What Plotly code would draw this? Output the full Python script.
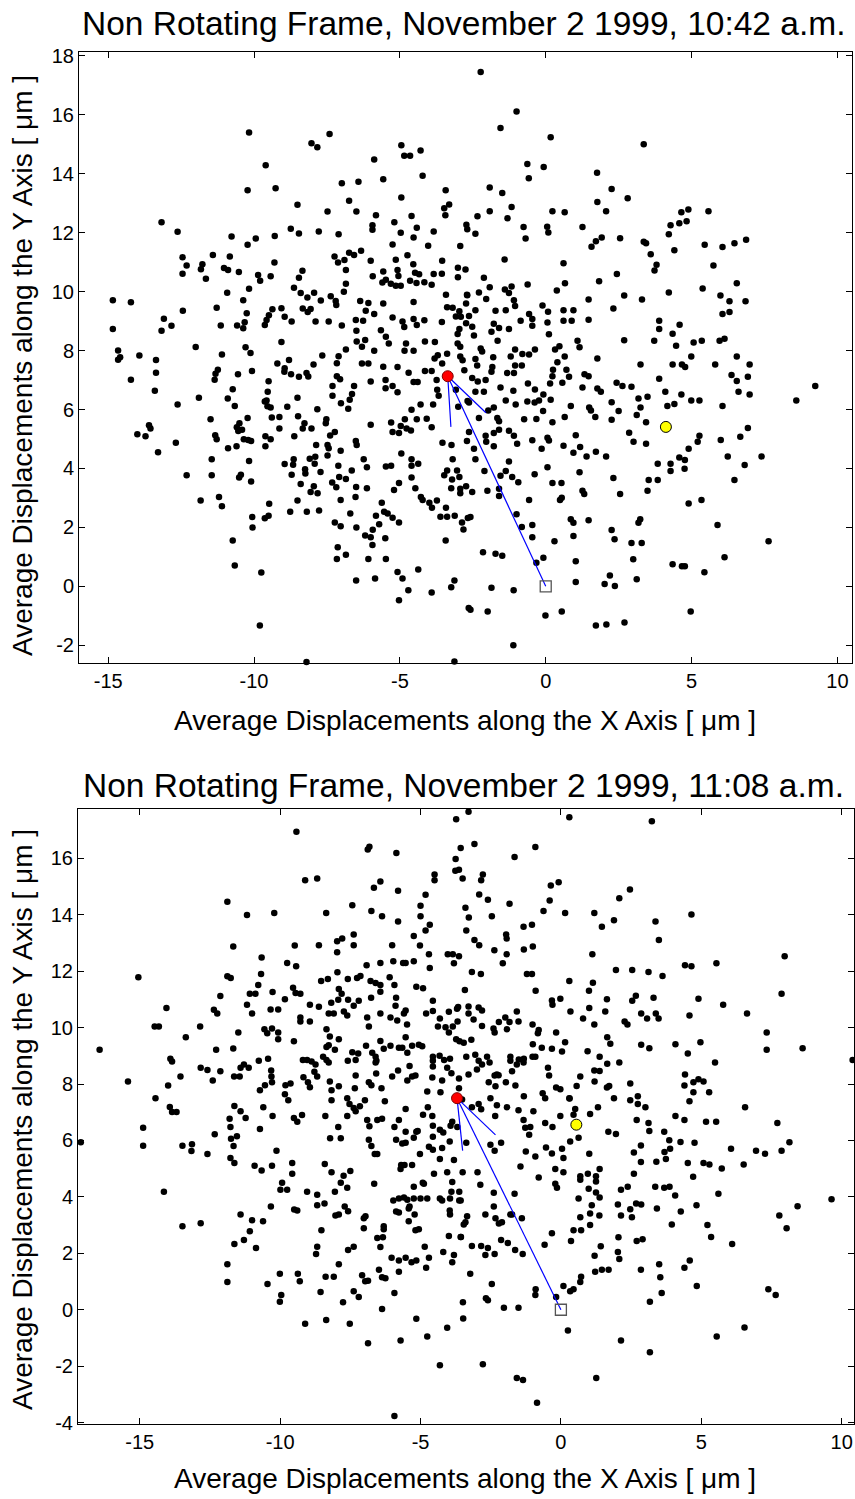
import plotly.graph_objects as go

W, H = 855, 1499

# ---------------- data: top panel (10:42 a.m.) ----------------
top_points = [
(-10.17,15.4),(-7.41,15.35),(-8.03,15.03),(-7.83,14.9),(-4.95,14.97),(-4.85,14.61),(-4.65,14.61),(-4.29,14.79),(-5.88,14.48),(-9.6,14.29),
(-6.99,13.68),(-6.42,13.73),(-5.57,13.81),(-4.22,13.93),(-10.22,13.44),(-9.26,13.51),(-4.95,13.19),(-3.43,13.44),(-8.51,12.95),(-6.74,13.08),
(-3.48,12.83),(-3.31,12.96),(-7.48,12.72),(-6.49,12.72),(-3.44,12.59),(-5.82,12.59),(-4.6,12.57),(-13.17,12.35),(-8.74,12.13),(-8.46,11.97),
(-7.78,12.04),(-5.94,12.25),(-5.94,12.1),(-5.19,12.35),(-4.97,12.0),(-4.42,12.17),(-4.53,11.84),(-3.84,12.04),(-2.72,12.27),(-12.62,12.03),
(-10.77,11.87),(-9.94,11.8),(-10.22,11.59),(-9.29,11.89),(-7.1,11.95),(-5.25,11.6),(-4.03,11.56),(-2.93,11.55),(-12.45,11.17),(-12.31,10.89),
(-12.45,10.61),(-11.82,10.76),(-11.77,10.93),(-11.65,10.44),(-11.41,11.24),(-10.83,11.19),(-11.03,10.8),(-10.89,10.73),(-10.52,10.67),(-9.86,10.56),
(-9.79,10.37),(-9.43,10.52),(-9.3,10.99),(-7.24,11.19),(-7.12,10.99),(-6.9,11.07),(-6.85,10.73),(-6.74,11.32),(-6.57,11.24),(-6.33,11.39),
(-6.0,11.05),(-5.93,10.52),(-5.57,10.68),(-5.48,10.4),(-5.6,10.31),(-5.31,10.27),(-5.14,10.2),(-5.14,11.08),(-5.08,10.73),(-5.05,10.53),
(-4.97,10.2),(-4.74,11.23),(-4.54,10.93),(-4.48,10.64),(-4.34,10.59),(-4.65,10.37),(-4.43,10.29),(-4.16,10.32),(-3.91,10.23),(-3.84,10.6),
(-3.56,10.61),(-3.55,11.05),(-3.01,10.49),(-3.01,10.81),(-2.75,10.75),
(-14.84,9.71),(-14.22,9.64),(-14.84,8.73),(-12.44,9.35),(-13.09,9.08),(-13.17,8.67),(-12.83,8.84),(-11.28,9.45),(-10.92,9.96),(-11.14,8.85),
(-10.58,8.85),(-10.37,9.71),(-10.25,9.27),(-10.32,8.96),(-10.37,8.76),(-10.17,10.1),(-9.63,8.87),(-9.57,9.04),(-9.49,9.2),(-9.37,9.4),
(-9.06,9.44),(-8.95,9.15),(-8.71,8.99),(-8.63,10.13),(-8.46,10.47),(-8.4,9.95),(-8.34,10.71),(-8.33,9.43),(-8.16,9.31),(-8.06,9.41),
(-8.17,9.8),(-7.94,9.96),(-7.89,8.99),(-7.71,9.7),(-7.44,8.99),(-7.37,9.84),(-7.2,9.68),(-7.18,9.55),(-6.92,10.0),(-6.85,10.27),
(-6.99,8.85),(-6.51,9.04),(-6.36,9.68),(-6.17,9.35),(-6.26,9.01),(-6.08,9.61),(-5.88,9.24),(-5.57,9.6),(-5.25,9.12),(-4.91,8.99),
(-4.85,8.8),(-4.53,9.07),(-4.42,8.87),(-4.53,9.65),(-4.16,9.03),(-3.56,8.97),(-3.38,9.47),(-3.19,9.45),(-3.42,9.89),(-3.08,9.16),
(-2.91,9.15),(-2.96,9.33),(-2.96,8.73),(-3.02,8.56),(-2.73,9.6),(-2.73,8.93),(-2.7,9.89),
(-14.66,8.0),(-14.59,7.77),(-14.66,7.69),(-13.93,7.83),(-13.36,7.68),(-13.36,7.25),(-13.4,6.64),(-14.22,7.01),(-12.62,6.17),(-12.0,8.12),
(-11.89,6.4),(-11.1,7.87),(-11.24,7.35),(-11.32,7.21),(-11.35,7.01),(-10.55,7.2),(-10.29,8.11),(-10.12,7.92),(-10.07,7.31),(-9.06,8.29),
(-9.2,7.56),(-8.95,7.4),(-8.96,7.28),(-8.8,7.68),(-8.73,7.2),(-8.46,7.11),(-8.2,7.24),(-8.14,7.12),(-7.96,7.53),(-7.66,7.83),
(-9.5,6.96),(-9.53,6.6),(-9.57,6.31),(-9.43,6.07),(-9.39,5.73),(-8.51,6.4),(-7.16,7.57),(-7.1,7.81),(-6.85,8.04),(-7.16,7.13),
(-7.05,7.03),(-7.31,6.8),(-7.31,6.47),(-7.02,6.21),(-6.77,6.03),(-6.72,6.33),(-6.64,6.53),(-6.57,6.8),(-6.49,8.67),(-6.48,8.31),
(-6.19,8.36),(-6.3,8.13),(-6.3,7.56),(-6.08,7.56),(-6.0,6.95),(-5.88,7.99),(-5.57,7.45),(-5.65,8.69),(-5.48,8.47),(-5.38,8.24),
(-5.49,7.0),(-5.49,6.72),(-5.25,6.8),(-5.08,7.44),(-5.08,6.59),(-4.79,8.24),(-4.84,7.99),(-4.53,7.99),(-4.7,7.25),(-4.53,6.93),
(-4.39,6.93),(-4.14,7.31),(-3.91,7.31),(-4.14,8.31),(-3.8,8.29),(-3.81,7.73),(-3.7,7.84),(-3.55,7.56),(-3.38,7.89),(-3.02,8.24),
(-2.93,8.13),(-2.93,7.8),(-2.85,7.67),(-2.79,7.33),(-3.74,7.0),(-3.72,6.67),(-3.67,6.47),(-3.86,6.17),(-4.29,6.17),(-4.6,5.99),
(-3.08,6.67),(-3.0,6.09),(-2.68,6.29),
(-5.3,5.56),(-4.97,5.44),(-4.77,5.36),(-4.62,5.29),(-4.83,5.67),(-5.25,5.24),(-5.03,5.2),(-4.42,5.67),(-4.08,5.69),(-3.91,5.4),
(-6.0,5.48),(-7.52,5.67),(-7.54,5.53),(-7.23,5.24),(-7.83,6.01),(-8.03,5.36),(-8.49,5.77),(-8.27,5.53),(-8.86,6.09),(-9.13,5.75),
(-9.13,5.36),(-9.63,6.27),(-9.54,6.11),(-10.22,5.71),(-10.66,6.12),(-10.9,6.37),(-10.73,6.69),(-11.49,5.67),(-10.59,5.4),(-10.54,5.27),
(-10.5,5.53),(-10.41,5.31),(-10.2,4.97),(-10.1,4.93),(-10.35,4.99),(-10.89,4.69),(-11.33,5.13),(-11.28,4.99),(-10.6,4.75),(-9.61,5.09),
(-9.43,4.99),(-9.61,4.75),(-8.62,5.09),(-8.33,5.36),(-13.6,5.47),(-13.55,5.36),(-14.0,5.16),(-13.72,5.09),(-13.29,4.55),(-12.68,4.87),
(-11.45,4.31),(-12.31,3.77),(-11.45,3.77),(-10.51,3.69),(-10.45,3.79),(-10.17,4.25),(-10.1,3.56),(-11.83,2.91),(-11.2,3.03),(-11.1,2.72),
(-10.06,2.35),(-10.05,2.0),(-9.48,2.8),(-9.63,2.31),(-9.5,2.4),(-8.95,4.15),(-8.64,4.31),(-8.66,4.13),(-8.71,3.79),(-8.4,3.47),
(-8.25,3.97),(-8.24,3.83),(-8.09,4.33),(-7.9,4.4),(-7.92,4.16),(-7.72,3.88),(-7.87,4.8),(-7.48,4.8),(-7.44,4.69),(-7.48,4.44),
(-7.39,5.12),(-7.03,4.6),(-6.51,4.93),(-6.48,4.8),(-6.24,4.31),(-6.13,4.04),(-7.11,4.09),(-6.85,3.64),(-7.08,3.71),(-6.65,3.93),
(-7.95,3.4),(-8.06,3.2),(-7.82,3.16),(-7.32,3.52),(-7.18,3.36),(-7.03,2.93),(-6.5,3.37),(-6.52,3.03),(-6.13,3.33),(-8.51,2.91),
(-8.19,2.53),(-8.76,2.53),(-7.77,2.57),(-7.23,2.17),(-7.03,2.04),(-6.7,2.47),(-6.49,2.0),(-6.19,1.73),(-6.0,1.67),(-5.93,1.92),
(-5.62,2.84),(-5.54,2.53),(-5.42,2.47),(-5.82,2.4),(-5.71,2.11),(-5.94,1.4),(-5.5,1.63),(-5.25,2.33),(-5.03,2.17),(-5.3,4.09),
(-5.48,4.07),(-4.95,4.51),(-5.03,3.51),(-5.2,3.27),(-4.6,4.31),(-4.6,4.09),(-4.37,4.16),(-4.6,3.69),(-4.47,3.33),(-4.28,3.03),
(-4.22,2.93),(-3.99,2.84),(-3.9,2.67),(-3.73,2.91),(-3.61,2.36),(-3.38,2.36),(-3.42,2.67),(-3.12,2.4),(-2.87,2.17),(-2.82,1.93),
(-2.67,2.32),(-3.54,4.87),(-3.23,4.8),(-3.19,4.31),(-3.38,3.93),(-3.04,3.93),(-3.48,3.77),(-3.21,3.63),(-2.96,3.71),(-3.24,3.33),
(-2.93,3.31),(-2.93,3.16),(-2.73,3.4),(-2.7,4.93),(-3.43,1.56),(-7.13,1.33),(-7.16,0.93),(-6.85,1.07),(-6.08,0.93),(-5.48,0.93),
(-6.5,0.2),(-5.85,0.27),(-5.08,0.49),(-4.91,0.27),(-4.71,-0.13),(-5.03,-0.47),(-4.37,0.57),(-3.91,-0.21),(-3.24,-0.03),(-3.13,0.2),
(-2.64,-0.73),(-10.73,1.56),(-10.66,0.71),(-9.75,0.47),(-9.8,-1.33),(-8.2,-2.57),(-3.13,-2.55),
(-2.04,18.15),(-2.23,17.45),(-1.0,16.11),(-1.55,15.55),(0.17,15.24),(3.36,15.0),(-0.63,14.33),(-0.58,13.85),(-0.07,14.23),(-1.92,13.53),
(-1.49,13.35),(1.76,14.03),(2.26,13.48),(2.81,13.17),(1.77,13.04),(2.07,12.73),(-1.92,12.73),(-1.17,12.87),(-1.31,12.49),(-2.34,12.56),
(0.23,12.73),(0.65,12.69),(-0.76,12.19),(-0.69,11.8),(0.05,12.2),(0.09,12.01),(1.26,12.19),(-2.69,12.12),(-2.41,11.96),(1.57,11.52),
(1.72,11.71),(1.92,11.84),(2.55,11.81),(3.36,11.69),(3.44,11.64),(3.6,11.27),(4.22,11.95),(4.28,12.25),(4.58,12.32),(4.83,12.39),
(4.89,12.79),(4.65,12.69),(5.58,12.73),(4.41,11.4),(5.45,11.59),(6.06,11.51),(6.47,11.64),(6.87,11.76),(3.8,10.91),(3.73,10.72),
(5.75,10.89),(-1.41,11.09),(0.61,10.96),(2.44,10.6),(1.83,10.35),(0.66,10.28),(0.38,10.04),(-0.62,10.24),(-1.17,10.17),(-2.12,10.47),
(-2.29,9.97),(-1.92,10.15),(-2.04,9.75),(-2.69,9.88),(-1.4,10.07),(-1.26,9.95),(-1.09,9.71),(-1.05,9.51),(2.69,9.87),(3.3,9.73),
(4.22,9.97),(5.38,10.11),(6.55,10.28),(5.99,9.87),(6.3,9.67),(6.85,9.67),(-2.41,9.37),(-1.72,9.35),(-1.37,9.37),(-2.63,9.17),
(-0.11,9.53),(0.08,9.32),(0.61,9.37),(0.95,9.37),(1.47,9.73),(2.32,9.43),(-0.86,9.01),(-0.57,9.24),(-0.46,9.07),(0.06,8.95),
(0.11,8.55),(0.61,9.01),(0.89,9.01),(1.47,9.05),(3.89,9.01),(3.89,8.73),(4.59,8.88),(4.35,8.57),(6.06,9.24),(6.3,9.31),
(-1.78,8.91),(-1.6,8.77),(-1.26,8.73),(-0.46,8.84),(-2.52,8.81),(-2.46,8.51),(-1.86,8.64),(-1.65,8.33),(1.09,8.33),(1.16,8.11),
(2.69,8.35),(3.72,8.33),(4.47,8.16),(5.07,8.27),(5.35,8.33),(5.96,8.33),(6.13,8.4),(0.32,8.04),(0.47,8.15),(-1.05,8.04),
(-0.37,8.04),(-2.23,8.07),(-2.18,7.97),(-2.41,7.71),(-1.8,7.77),(-1.2,7.8),(-0.8,7.88),(-0.57,7.87),(0.65,7.8),(1.77,7.73),
(4.99,7.8),(6.55,7.8),(-2.35,7.49),(-1.83,7.44),(-1.05,7.49),(-0.82,7.49),(0.4,7.6),(3.25,7.53),(4.35,7.53),(4.67,7.53),
(4.78,7.44),(5.81,7.53),(6.99,7.53),(-2.52,7.07),(-1.86,7.28),(-1.32,7.24),(-1.09,7.24),(0.25,7.35),(0.71,7.35),(0.8,7.11),
(1.33,7.2),(1.47,7.13),(0.23,7.13),(3.89,7.04),(6.37,7.17),(6.93,7.11),(6.55,6.97),(-2.33,6.95),(-2.06,7.0),(-1.55,6.75),
(-1.11,6.64),(-0.61,6.88),(-0.37,6.68),(0.15,6.88),(0.57,6.91),(1.26,6.75),(1.77,6.71),(1.89,6.6),(2.43,6.91),(2.63,6.8),
(2.94,6.77),(9.24,6.8),(4.1,6.6),(6.61,6.6),(6.99,6.51),(-2.41,6.6),(-2.12,6.6),(3.18,6.37),(3.49,6.43),(4.65,6.51),
(4.99,6.31),(5.27,6.31),(8.59,6.31),(-2.63,6.24),(-1.78,6.07),(-1.37,6.31),(-1.03,6.17),(-0.63,6.27),(-0.38,6.24),(-0.23,6.31),
(-0.08,6.51),(0.17,6.33),(0.86,6.12),(1.49,6.07),(1.55,5.97),(2.26,6.25),(3.25,6.07),(4.17,6.12),(4.41,6.19),(6.06,6.12),
(-2.29,5.71),(-1.66,5.71),(-1.6,5.6),(-1.97,5.97),(-0.74,5.67),(-0.32,5.68),(-0.09,5.95),(0.23,5.57),(0.65,5.75),(1.7,5.75),
(2.26,5.65),(2.5,5.95),(3.12,5.81),(3.44,5.57),(6.93,5.37),(-2.63,5.24),(-2.06,5.11),(-1.78,5.2),(-1.6,5.31),(-1.26,5.28),
(-1.09,5.11),(-0.98,4.84),(-0.46,4.96),(0.06,5.04),(0.11,4.95),(-0.14,4.67),(0.61,4.77),(1.03,5.13),(0.95,4.53),(1.18,4.73),
(1.4,4.41),(1.72,4.57),(2.07,4.41),(2.86,5.21),(3.01,4.91),(3.44,4.84),(5.27,5.11),(5.21,4.91),(4.9,4.67),(6.0,4.97),
(6.67,5.08),(-2.04,4.91),(-1.78,4.75),(-2.46,4.67),(-2.41,4.31),(-2.1,3.91),(-1.26,4.24),(-1.37,3.91),(-1.55,3.75),(-1.15,3.71),
(-0.94,3.53),(-0.38,3.8),(0.06,4.04),(1.16,3.87),(0.23,3.51),(0.54,3.51),(2.32,3.68),(3.84,4.16),(4.28,4.16),(4.28,3.91),
(4.58,4.37),(4.77,4.29),(4.76,3.99),(3.53,3.61),(3.84,3.61),(3.49,3.24),(6.24,4.41),(6.82,4.12),(7.4,4.41),(6.47,3.61),
(-2.52,3.2),(-2.0,3.24),(-1.6,3.31),(-1.6,3.07),(-0.57,2.93),(0.49,2.93),(0.55,3.01),(1.26,3.24),(1.32,3.13),(2.55,3.13),
(4.9,2.81),(5.34,2.93),(-2.58,2.35),(-1.0,2.45),(-0.82,2.01),(-0.46,2.08),(-0.46,1.67),(0.86,2.28),(0.95,2.16),(1.47,2.24),
(0.95,1.71),(0.3,1.53),(2.26,1.91),(2.36,1.6),(3.18,2.16),(3.24,2.28),(2.94,1.47),(3.29,1.47),(5.89,2.08),(7.64,1.53),
(-2.15,1.16),(-1.72,1.11),(-1.49,1.04),(-0.32,0.8),(-0.08,0.97),(1.03,0.85),(3.0,0.92),(6.13,0.99),(4.35,0.75),(4.67,0.68),
(4.77,0.68),(5.44,0.48),(2.2,0.37),(3.12,0.24),(1.03,0.15),(2.02,0.08),(2.37,0.01),(-1.86,-0.05),(-1.1,-0.13),(-2.58,-0.79),
(-1.99,-0.85),(-0.01,-0.99),(0.55,-0.85),(1.72,-1.33),(2.08,-1.29),(2.7,-1.23),(4.97,-0.85),(-1.11,-2.0),
]

# ---------------- data: bottom panel (11:08 a.m.) ----------------
bottom_points = [
(-3.73,17.39),(-9.42,16.94),(-6.88,16.31),(-6.82,16.41),(-5.86,16.19),(-3.57,16.37),(-3.75,15.98),(-3.63,15.6),(-9.11,15.22),(-8.68,15.29),
(-6.66,14.96),(-6.43,15.18),(-4.5,15.43),(-4.5,15.22),(-5.8,14.85),(-4.82,14.71),(-5.0,14.32),(-4.67,13.65),(-4.82,13.44),(-5.0,13.95),
(-11.88,14.46),(-11.18,13.99),(-10.21,14.06),(-8.36,14.06),(-7.43,14.34),(-6.75,14.13),(-6.37,13.95),(-5.8,13.76),(-5.24,13.25),(-5.02,12.91),
(-11.67,12.88),(-9.48,12.91),(-8.62,12.92),(-7.97,13.06),(-7.79,13.16),(-7.38,13.3),(-7.38,12.92),(-7.97,12.67),(-6.01,12.92),(-4.7,12.6),
(-4.03,12.6),(-3.85,12.6),(-3.63,12.53),(-3.81,12.28),(-10.66,12.49),(-9.75,12.29),(-9.43,12.18),(-6.92,12.21),(-6.43,12.29),(-5.97,12.35),
(-5.62,12.29),(-5.53,12.29),(-5.24,12.35),(-4.67,12.11),(-15.05,11.79),(-11.88,11.82),(-11.76,11.76),(-10.68,11.9),(-10.78,11.51),(-8.54,11.65),
(-8.3,11.72),(-7.96,11.96),(-7.59,11.72),(-7.26,11.76),(-7.14,11.83),(-6.78,11.65),(-6.6,11.58),(-6.43,11.51),(-6.1,11.79),(-5.93,11.51),
(-5.15,11.45),(-4.91,11.4),(-11.08,11.2),(-10.88,11.2),(-12.13,11.12),(-10.27,11.26),(-9.54,11.41),(-9.45,11.23),(-9.28,11.2),(-9.83,11.01),
(-7.91,11.37),(-7.81,11.2),(-7.93,10.99),(-7.58,10.99),(-7.38,10.78),(-7.2,10.95),(-6.76,11.06),(-6.43,11.27),(-5.87,11.06),(-5.89,10.78),
(-5.53,10.61),(-5.59,10.5),(-4.56,10.95),(-4.56,10.59),(-4.31,10.32),(-3.99,10.56),(-3.66,10.73),(-14.05,10.7),(-12.36,10.63),(-12.24,10.5),
(-11.18,10.81),(-11.0,10.5),(-10.34,10.64),(-10.07,10.64),(-8.94,10.81),(-8.62,10.74),(-8.27,10.5),(-8.09,10.5),(-9.28,10.36),(-9.28,10.22),
(-8.94,10.22),(-8.18,10.88),(-7.73,10.57),(-7.61,10.43),(-6.9,10.36),(-6.84,10.04),(-6.43,10.5),(-6.07,10.36),(-5.83,10.25),(-5.48,10.11),
(-4.8,10.5),(-4.38,10.04),(-4.11,10.01),(-3.85,10.04),(-3.73,9.59),(-3.61,9.52),(-3.99,9.83),(-12.85,10.04),(-11.49,9.83),(-10.56,9.94),
(-10.46,9.8),(-10.29,9.97),(-10.07,9.83),(-10.07,9.59),(-9.51,9.52),(-14.47,10.04),(-14.32,10.04),(-13.36,9.66),(-12.28,9.22),(-11.67,9.26),
(-16.43,9.22),(-8.35,9.94),(-8.23,9.69),(-8.27,9.38),(-8.35,9.31),(-7.91,9.59),(-8.05,9.22),(-8.47,8.97),(-8.35,8.85),(-8.27,8.76),
(-7.59,8.83),(-7.43,9.13),(-7.22,9.08),(-7.31,8.85),(-6.94,9.36),(-6.72,9.11),(-6.6,8.76),(-6.57,8.83),(-6.6,8.97),(-6.43,9.53),
(-6.31,9.25),(-6.07,9.36),(-5.77,9.29),(-5.65,9.29),(-5.53,9.66),(-5.3,9.36),(-5.06,9.39),(-4.94,9.34),(-5.47,9.11),(-4.56,8.97),
(-4.56,8.83),(-4.32,9.0),(-4.16,8.85),(-3.95,8.9),(-4.05,8.58),(-3.9,8.38),(-3.63,8.2),(-3.63,7.85),(-13.91,8.9),(-13.85,8.8),
(-13.55,8.27),(-13.99,7.95),(-12.83,8.58),(-12.59,8.5),(-12.4,8.13),(-12.13,8.45),(-14.44,7.5),(-15.42,8.09),(-11.64,8.27),(-11.44,8.27),
(-11.41,8.58),(-11.29,8.69),(-11.12,8.58),(-10.76,8.83),(-10.43,8.9),(-10.32,8.48),(-10.31,8.27),(-10.29,8.06),(-10.72,7.78),(-10.54,7.96),
(-9.81,7.96),(-9.63,8.02),(-9.83,7.64),(-9.71,7.43),(-9.19,8.85),(-9.04,8.85),(-8.88,8.8),(-8.74,8.69),(-9.17,8.24),(-9.01,8.06),
(-8.78,8.44),(-8.68,8.27),(-8.94,7.89),(-8.23,8.09),(-8.17,7.78),(-8.17,7.43),(-7.91,7.92),(-7.61,7.5),(-7.34,7.85),(-7.31,8.3),
(-6.98,7.43),(-6.84,8.06),(-6.75,7.96),(-6.58,8.37),(-6.39,7.85),(-6.01,8.27),(-5.8,8.48),(-5.47,8.13),(-5.3,8.27),(-5.18,8.3),
(-5.39,8.64),(-4.76,7.74),(-4.58,8.23),(-4.56,8.62),(-4.29,7.71),(-4.23,8.13),(-14.88,6.45),(-14.88,5.81),(-17.1,5.94),(-13.93,7.19),
(-13.85,7.01),(-13.69,7.01),(-13.48,5.81),(-13.14,5.87),(-13.16,5.63),(-12.59,5.52),(-12.33,6.22),(-14.14,4.18),(-13.48,2.96),(-12.83,3.07),
(-11.8,6.77),(-11.77,6.48),(-11.75,6.06),(-11.63,7.22),(-11.54,6.15),(-11.66,5.8),(-11.77,5.38),(-11.63,5.2),(-11.41,7.04),(-11.23,6.8),
(-10.72,6.41),(-10.6,7.18),(-10.27,6.87),(-10.91,5.1),(-10.66,4.94),(-10.29,5.1),(-10.13,5.64),(-9.57,5.2),(-9.57,4.82),(-9.93,4.5),
(-9.99,4.25),(-9.75,4.25),(-9.51,6.8),(-9.39,6.66),(-9.22,6.9),(-9.04,4.18),(-8.68,4.08),(-8.68,3.7),(-8.42,3.77),(-8.41,5.17),
(-8.17,4.87),(-8.39,6.87),(-8.22,6.08),(-7.84,6.08),(-7.93,6.48),(-7.74,4.75),(-7.5,4.92),(-8.05,4.18),(-7.84,4.5),(-7.61,4.32),
(-8.03,3.34),(-7.91,3.38),(-7.7,3.66),(-7.58,3.49),(-8.53,2.82),(-8.68,2.23),(-8.72,1.98),(-7.58,2.12),(-7.91,1.61),(-8.38,1.17),
(-8.09,1.17),(-8.56,0.63),(-8.36,-0.36),(-9.11,-0.5),(-7.52,-0.5),(-7.76,0.27),(-7.38,0.66),(-7.2,0.45),(-7.38,2.23),(-7.08,1.22),
(-6.97,1.01),(-6.87,1.03),(-7.02,3.24),(-6.96,3.31),(-7.02,2.89),(-6.54,2.54),(-6.43,2.22),(-6.34,2.57),(-6.31,2.85),(-6.31,2.96),
(-6.03,1.84),(-6.37,1.15),(-6.48,1.42),(-6.25,1.12),(-5.93,0.59),(-6.37,0.03),(-6.87,-1.19),(-5.77,1.75),(-5.53,1.84),(-5.32,1.68),
(-5.15,1.75),(-4.8,1.49),(-4.7,1.84),(-4.85,2.23),(-4.19,2.05),(-3.87,1.68),(-3.81,1.94),(-5.77,1.35),(-5.15,-0.32),(-4.76,-0.95),
(-5.71,-1.09),(-4.31,-1.97),(-4.05,-0.64),(-5.93,-3.77),(-5.87,3.48),(-5.77,3.45),(-5.42,3.14),(-5.18,2.82),(-5.06,2.85),(-5.21,3.38),
(-5.42,3.59),(-5.39,3.66),(-5.97,3.87),(-5.77,3.94),(-5.59,3.98),(-5.47,3.9),(-5.24,3.94),(-5.24,4.36),(-5.0,3.94),(-4.76,3.94),
(-4.88,4.47),(-4.31,3.94),(-4.23,3.87),(-3.95,3.94),(-3.9,4.18),(-3.57,3.87),(-3.96,3.52),(-3.95,3.38),(-3.99,2.61),(-3.57,2.58),
(-5.69,5.13),(-5.71,4.99),(-5.57,5.13),(-5.3,5.13),(-4.52,4.82),(-4.31,5.34),(-4.05,4.87),(-3.81,5.31),(-3.87,4.53),(-5.02,5.52),
(-4.92,4.5),(-6.65,4.47),(-6.84,6.03),(-6.75,5.8),(-6.63,5.52),(-6.54,5.52),(-6.82,6.5),(-6.9,6.73),(-6.54,6.73),(-6.37,6.77),
(-6.27,7.39),(-5.93,6.48),(-5.87,6.03),(-5.65,5.89),(-5.53,5.92),(-5.53,7.12),(-5.77,6.73),(-5.53,6.31),(-5.24,6.1),(-5.15,6.31),
(-5.1,6.34),(-4.91,6.91),(-4.74,7.18),(-4.58,6.87),(-4.56,6.52),(-4.7,5.78),(-4.56,6.13),(-4.31,6.38),(-4.19,6.28),(-3.96,5.96),
(-3.93,6.52),(-3.87,6.66),(-3.69,6.48),(-4.56,5.67),(-4.23,5.73),(-7.61,6.87),(-7.53,7.29),(-7.38,7.15),(-7.31,7.04),(-7.16,7.21),
(-9.5,3.55),(-9.39,3.52),(-10.33,3.66),(-11.41,3.38),(-11.08,2.78),(-11.29,2.47),(-11.63,2.33),(-10.86,2.19),(-11.0,3.17),(-10.61,3.14),
(-11.88,1.61),(-11.88,0.98),(-10.45,0.91),(-10.01,1.28),(-10.01,0.28),(-9.96,0.52),(-9.37,1.28),(-9.3,1.01),
(-3.29,17.65),(0.3,17.46),(3.24,17.32),(-3.08,16.51),(-0.91,16.4),(-1.65,16.05),(-3.76,15.56),(-3.5,15.29),(-2.78,15.43),(-2.84,15.22),
(-2.91,14.72),(-2.6,14.53),(-3.4,14.25),(-3.28,13.9),(-1.83,14.39),(-2.46,13.95),(-0.36,15.04),(-0.08,15.15),(-0.4,14.51),(-0.62,14.13),
(0.15,14.06),(1.19,14.06),(2.08,14.59),(2.46,14.9),(1.89,13.81),(1.46,13.58),(3.37,13.76),(3.49,13.11),(4.65,14.01),(-3.37,13.44),
(-3.08,13.11),(-2.91,12.92),(-1.95,13.3),(-1.93,13.16),(-1.33,13.58),(-1.03,13.65),(-1.32,12.77),(-1.0,12.88),(-2.37,12.74),(-1.93,12.6),
(-2.07,12.28),(1.12,12.6),(-3.17,11.97),(-2.85,11.9),(-1.21,11.9),(-1.03,11.9),(0.3,11.65),(1.0,11.31),(1.14,11.59),(1.96,12.04),
(2.54,12.04),(3.12,11.97),(3.62,11.83),(4.42,12.21),(4.65,12.18),(5.54,12.28),(7.97,12.53),(-3.42,11.33),(-0.9,11.31),(-3.7,10.67),
(-3.29,10.75),(-2.93,10.71),(-2.81,10.61),(-3.68,10.22),(-3.29,10.5),(-3.11,10.29),(-2.81,10.06),(-3.46,9.46),(-3.19,9.57),(-2.36,9.83),
(-2.4,9.97),(-2.21,10.2),(-1.98,10.36),(-1.83,10.2),(-1.92,9.94),(-1.57,10.57),(-1.51,10.22),(-0.32,10.96),(-0.3,10.81),(-0.02,11.02),
(0.34,10.57),(0.79,10.32),(1.01,10.7),(1.19,10.11),(1.58,10.57),(1.64,11.01),(1.65,9.66),(1.76,9.43),(2.27,10.22),(2.37,10.11),
(2.67,11.13),(2.54,10.95),(2.86,10.5),(3.07,10.32),(3.3,11.06),(3.38,10.5),(3.48,10.32),(4.58,10.43),(4.9,11.02),(5.78,10.81),
(6.63,10.5),(7.86,11.2),(7.33,9.83),(7.33,9.22),(8.61,9.27),(10.39,8.85),(-1.01,10.11),(-0.79,9.92),(-0.82,9.8),(-1.0,9.41),
(-0.68,9.29),(-0.32,9.25),(-0.17,9.83),(0.04,9.15),(0.15,9.48),(0.95,9.16),(1.38,8.97),(2.08,8.76),(1.65,8.72),(2.86,9.39),
(3.15,9.27),(4.08,9.41),(4.52,9.08),(4.97,9.48),(5.49,8.76),(-3.37,8.97),(-3.05,9.04),(-2.93,8.83),(-2.63,8.97),(-3.29,8.34),
(-2.99,8.52),(-2.81,8.69),(-2.54,8.76),(-2.36,8.3),(-2.22,8.31),(-1.8,8.97),(-1.8,8.83),(-1.5,8.87),(-1.32,8.9),(-1.74,8.45),
(-1.57,8.69),(-1.33,8.76),(-1.62,7.95),(-1.32,7.57),(-1.96,8.06),(-2.57,8.06),(-2.33,7.92),(-2.28,8.34),(-1.01,8.97),(-0.91,8.97),
(-0.46,8.58),(-0.42,8.3),(-0.17,7.88),(-0.02,7.82),(-0.65,7.67),(-0.56,7.5),(-0.98,7.04),(0.31,7.49),(0.56,7.93),(0.69,8.27),
(1.19,8.48),(1.2,8.09),(1.38,8.46),(1.64,7.88),(1.72,7.93),(1.32,7.18),(1.89,7.5),(2.47,8.02),(2.47,7.43),(2.74,7.57),
(2.74,7.29),(3.01,7.18),(2.7,6.73),(3.12,6.62),(3.15,6.34),(3.68,6.31),(3.86,6.01),(3.89,5.71),(3.69,5.59),(3.74,5.34),
(4.08,6.87),(4.4,6.73),(4.26,5.95),(4.76,5.92),(4.42,8.34),(4.4,7.95),(4.72,8.06),(4.9,8.17),(5.08,8.09),(4.72,7.71),
(4.58,7.39),(5.28,7.71),(5.17,6.66),(5.53,6.66),(6.56,7.18),(7.71,6.62),(8.14,5.94),(7.86,5.64),(7.27,5.53),(6.95,5.64),
(6.06,5.71),(6.51,5.15),(5.73,5.01),(5.08,5.2),(5.29,5.15),(4.52,5.2),(4.71,4.71),(3.4,5.25),(2.85,5.82),(2.6,5.57),
(2.85,5.24),(2.6,4.82),(2.14,4.25),(2.38,4.36),(3.36,4.36),(3.68,4.32),(3.87,4.36),(4.07,4.05),(5.61,4.11),(4.83,3.7),
(4.27,3.48),(3.42,3.59),(2.86,3.73),(2.68,3.77),(2.47,3.56),(2.53,3.28),(2.03,3.73),(2.14,3.34),(3.95,3.02),(5.22,3.0),
(5.35,2.58),(6.1,2.33),(7.78,3.34),(8.04,2.89),(8.43,3.67),(9.64,3.92),(-3.52,7.45),(-3.17,7.18),(-2.93,7.29),(-2.84,7.11),
(-2.51,7.5),(-2.28,7.25),(-2.34,6.87),(-1.92,7.18),(-1.51,7.07),(-1.33,6.73),(-1.27,6.45),(-1.09,6.48),(-1.13,6.2),(-0.56,6.62),
(-0.3,6.48),(-0.02,6.87),(0.3,7.5),(0.45,6.91),(0.51,7.12),(0.33,5.96),(0.63,6.1),(1.01,5.53),(1.04,6.94),(1.69,6.31),
(1.96,6.23),(-0.91,5.43),(-0.53,5.75),(-0.32,5.54),(0.04,5.71),(0.09,5.38),(-1.25,5.61),(-1.44,5.08),(-0.79,4.69),(-0.2,4.99),
(0.09,4.87),(-0.2,4.47),(-0.14,4.32),(0.69,4.73),(0.69,4.61),(0.96,4.82),(1.25,4.73),(1.38,4.99),(0.99,4.29),(1.25,4.55),
(1.25,4.16),(1.38,3.98),(0.63,3.94),(1.1,3.7),(1.04,3.41),(1.37,3.34),(0.69,3.28),(0.45,2.82),(0.72,2.82),(0.36,2.44),
(1.04,3.0),(1.42,2.25),(1.2,1.91),(1.22,1.35),(1.46,1.42),(1.7,1.42),(0.72,1.17),(0.69,0.98),(0.33,0.66),(0.45,0.73),
(0.09,0.84),(-0.32,2.71),(-0.58,2.3),(-0.17,0.45),(-0.9,0.73),(-0.91,0.52),(-1.51,0.07),(-2.03,0.07),(-2.67,0.41),(-2.6,0.34),
(-3.49,0.27),(-3.48,-0.31),(-2.46,0.91),(-3.23,1.28),(-3.17,2.26),(-2.84,2.26),(-2.6,2.19),(-2.36,1.98),(-2.69,1.94),(-2.13,2.47),
(-1.89,2.37),(-1.63,2.12),(-1.36,1.98),(-3.56,2.58),(-3.34,3.31),(-3.4,3.1),(-3.46,3.02),(-2.69,3.38),(-2.39,3.66),(-2.33,3.24),
(-2.21,3.06),(-2.1,3.1),(-1.8,3.38),(-1.74,3.38),(-1.39,3.24),(-1.65,4.11),(-2.39,4.15),(-3.62,4.18),(-3.62,3.87),(-3.5,4.87),
(-2.97,4.87),(-2.87,4.43),(-3.37,5.92),(-2.51,5.85),(-2.36,5.64),(-2.13,5.92),(6.54,-0.63),(5.55,-0.95),(3.17,0.28),(3.17,-1.51),
(2.14,-1.09),(1.26,-2.42),(0.25,-0.74),(-0.85,-3.3),(-1.57,-2.42),(-1.35,-2.49),(-2.78,-1.93),(7.39,0.73),(7.65,0.52),(4.84,0.84),
(3.59,0.59),(3.54,1.15),(2.85,1.42),(3.5,1.61),(4.4,1.49),(4.59,1.75),(2.05,2.57),(2.08,1.8),(2.03,2.05),(2.7,2.44),
(2.91,2.5),
]

# special markers: start (origin), mean (red), reference (yellow), and the short tip segments
top_origin = (0.0, 0.0)
top_red = (-3.36, 7.13)
top_yellow = (4.12, 5.41)
top_tips = [(-3.25, 5.41), (-2.05, 5.89)]

bottom_origin = (0.0, 0.0)
bottom_red = (-3.70, 7.50)
bottom_yellow = (0.55, 6.56)
bottom_tips = [(-3.50, 5.64), (-2.33, 6.20)]

titles = ["Non Rotating Frame, November 2 1999, 10:42 a.m.",
          "Non Rotating Frame, November 2 1999, 11:08 a.m."]
x_label = "Average Displacements along the X Axis [ \u03bcm ]"
y_label = "Average Displacements along the Y Axis [ \u03bcm ]"

top_xrange, top_yrange = [-16.0, 10.5], [-2.6, 18.13]
bottom_xrange, bottom_yrange = [-17.2, 10.44], [-4.05, 17.75]
x_ticks = [-15, -10, -5, 0, 5, 10]
top_yticks = [-2, 0, 2, 4, 6, 8, 10, 12, 14, 16, 18]
bottom_yticks = [-4, -2, 0, 2, 4, 6, 8, 10, 12, 14, 16]

FONT = "Liberation Sans, Arial, Helvetica, sans-serif"

fig = go.Figure()


def add_panel(points, origin, red, yellow, tips, xa, ya):
    xs = [p[0] for p in points]
    ys = [p[1] for p in points]
    fig.add_trace(go.Scatter(x=xs, y=ys, mode="markers", xaxis=xa, yaxis=ya,
                             marker=dict(color="black", size=6.5, line=dict(width=0)),
                             cliponaxis=False, showlegend=False, hoverinfo="skip"))
    lx, ly = [], []
    for end in [origin] + tips:
        lx += [red[0], end[0], None]
        ly += [red[1], end[1], None]
    fig.add_trace(go.Scatter(x=lx, y=ly, mode="lines", xaxis=xa, yaxis=ya,
                             line=dict(color="#0000ff", width=1.2),
                             showlegend=False, hoverinfo="skip"))
    fig.add_trace(go.Scatter(x=[origin[0]], y=[origin[1]], mode="markers", xaxis=xa, yaxis=ya,
                             marker=dict(symbol="square-open", size=11, color="#555555",
                                         line=dict(width=1.3)),
                             showlegend=False, hoverinfo="skip"))
    fig.add_trace(go.Scatter(x=[yellow[0]], y=[yellow[1]], mode="markers", xaxis=xa, yaxis=ya,
                             marker=dict(color="#ffff00", size=11, line=dict(color="black", width=1)),
                             showlegend=False, hoverinfo="skip"))
    fig.add_trace(go.Scatter(x=[red[0]], y=[red[1]], mode="markers", xaxis=xa, yaxis=ya,
                             marker=dict(color="#ff0000", size=11, line=dict(color="#800000", width=1)),
                             showlegend=False, hoverinfo="skip"))


add_panel(top_points, top_origin, top_red, top_yellow, top_tips, "x", "y")
add_panel(bottom_points, bottom_origin, bottom_red, bottom_yellow, bottom_tips, "x2", "y2")

axis_common = dict(showline=True, linecolor="black", linewidth=1, mirror="ticks",
                   ticks="inside", ticklen=6, tickcolor="black", tickwidth=1,
                   showgrid=False, zeroline=False, automargin=False,
                   tickfont=dict(family=FONT, size=20, color="black"))


def px_x(p):
    return p / W


def px_y(p):
    return 1 - p / H


def labels(vals):
    return [str(v) for v in vals]


fig.update_layout(
    template="none",
    width=W, height=H,
    margin=dict(l=0, r=0, t=0, b=0, autoexpand=False),
    paper_bgcolor="white", plot_bgcolor="white",
    xaxis=dict(domain=[px_x(79), px_x(852)], range=top_xrange, tickvals=x_ticks,
               ticktext=labels(x_ticks), anchor="y", **axis_common),
    yaxis=dict(domain=[px_y(663), px_y(52)], range=top_yrange, tickvals=top_yticks,
               ticktext=labels(top_yticks), anchor="x", **axis_common),
    xaxis2=dict(domain=[px_x(78), px_x(854)], range=bottom_xrange, tickvals=x_ticks,
                ticktext=labels(x_ticks), anchor="y2", **axis_common),
    yaxis2=dict(domain=[px_y(1424), px_y(809)], range=bottom_yrange, tickvals=bottom_yticks,
                ticktext=labels(bottom_yticks), anchor="x2", **axis_common),
)

annotations = [
    dict(text=titles[0], x=px_x(464), y=px_y(23), size=33.5),
    dict(text=titles[1], x=px_x(464), y=px_y(785), size=33.5),
    dict(text=x_label, x=px_x(465), y=px_y(720), size=28),
    dict(text=x_label, x=px_x(465), y=px_y(1478), size=28),
]
for a in annotations:
    fig.add_annotation(text=a["text"], x=a["x"], y=a["y"], xref="paper", yref="paper",
                       showarrow=False, xanchor="center", yanchor="middle",
                       font=dict(family=FONT, size=a["size"], color="black"))
for yc in (366, 1120):
    fig.add_annotation(text=y_label, x=px_x(22), y=px_y(yc), xref="paper", yref="paper",
                       showarrow=False, xanchor="center", yanchor="middle", textangle=-90,
                       font=dict(family=FONT, size=28, color="black"))

# remove the browser's default 8px body margin so the figure fills the window exactly
fig.write_html("out.html",
               config={"displayModeBar": False, "staticPlot": True},
               post_script="document.body.style.margin='0';document.body.style.overflow='hidden';")
